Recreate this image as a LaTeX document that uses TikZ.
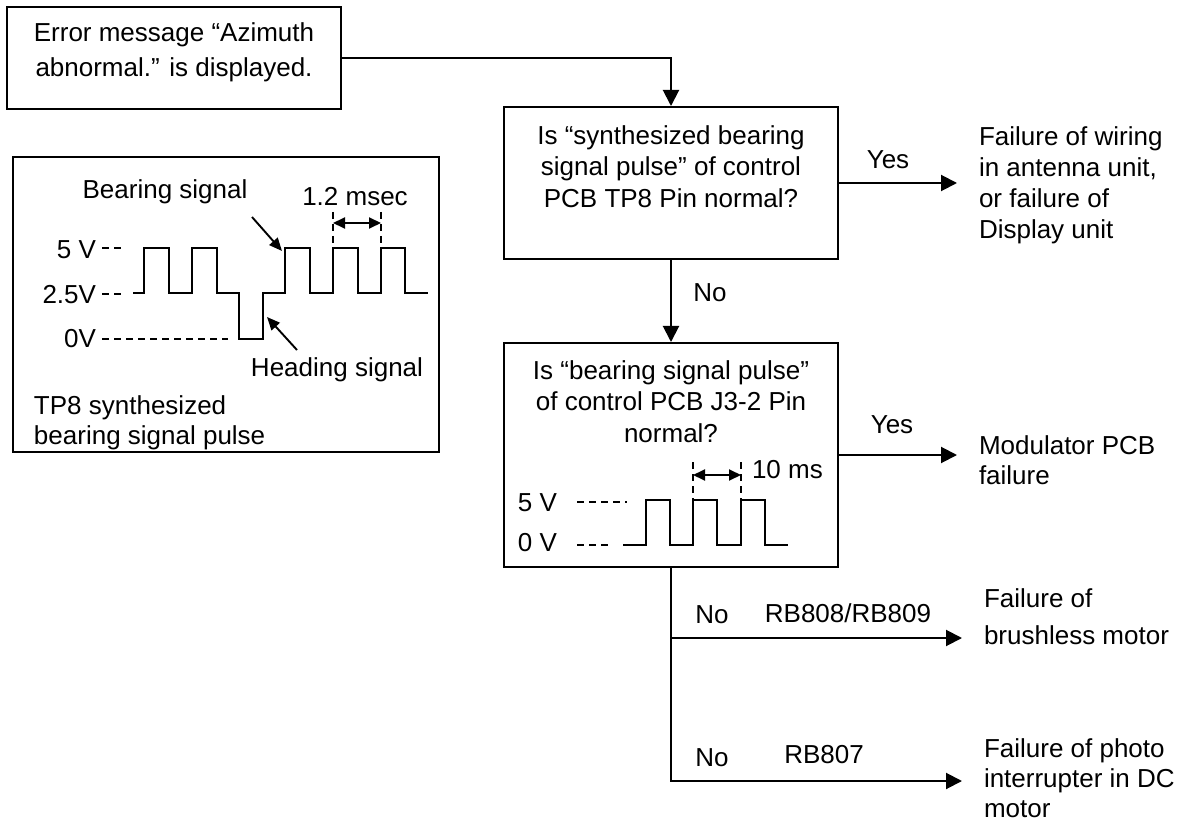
\documentclass[tikz,border=0pt]{standalone}
\usepackage{fontspec}
\setmainfont{Liberation Sans}
\usetikzlibrary{arrows.meta,positioning}

\begin{document}
\begin{tikzpicture}[x=1pt,y=-1pt,>={Triangle[length=16pt,width=16pt]},
  line width=2pt,
  box/.style={draw, line width=2pt, minimum width=334pt, inner sep=0pt},
  txt/.style={align=center, inner sep=0pt, font=\fontsize{26}{31.5}\selectfont},
  res/.style={align=left, anchor=west, inner sep=0pt, font=\fontsize{26}{30}\selectfont},
  lbl/.style={inner sep=0pt, font=\fontsize{26}{30}\selectfont},
  wave/.style={line width=1.9pt, line join=miter},
  guide/.style={line width=1.4pt, dash pattern=on 7pt off 5pt},
  ptr/.style={-{Triangle[length=13pt,width=11pt]}, line width=1.9pt},
  span/.style={{Triangle[length=12pt,width=11pt]}-{Triangle[length=12pt,width=11pt]}, line width=1.9pt}]
  \useasboundingbox (0,0) rectangle (1189,826);

  % boxes
  \node[box, minimum height=102pt] (err) at (174,58) {};
  \node[txt, font=\fontsize{26}{35}\selectfont] (errtext) at (174,52.5)
    {Error message “Azimuth\\abnormal.” is displayed.};
  \node[box, minimum width=426pt, minimum height=295pt] (tp8box) at (226,304.5) {};
  \node[box, minimum height=152pt] (chk1) at (671,183) {};
  \node[txt] (chk1text) at (671,166.5)
    {Is “synthesized bearing\\signal pulse” of control\\PCB TP8 Pin normal?};
  \node[box, minimum height=224pt] (chk2) at (671,455) {};
  \node[txt] (chk2text) at (671,401.5)
    {Is “bearing signal pulse”\\of control PCB J3-2 Pin\\normal?};

  % results
  \node[res, font=\fontsize{26}{31}\selectfont] (wiring) at (978,185)
    {Failure of wiring\\in antenna unit,\\or failure of\\Display unit};
  \node[res] (modpcb) at (978,460) {Modulator PCB\\failure};
  \node[res, font=\fontsize{26}{37}\selectfont] (motor) at (983,617)
    {Failure of\\brushless motor};
  \node[res] (photo) at (983,778) {Failure of photo\\interrupter in DC\\motor};

  \coordinate (yes1) at (957,183);
  \coordinate (yes2) at (957,455);
  \coordinate (no1) at (962,638);
  \coordinate (no2) at (962,781);

  % connectors
  \draw[->] (err.east) -| (chk1.north);
  \draw[->] (chk1.east) -- (yes1);
  \draw[->] (chk1.south) -- (chk2.north);
  \draw[->] (chk2.east) -- (yes2);
  \draw[->] (chk2.south) |- (no2);
  \draw[->] (chk2.south |- no1) -- (no1);

  \node[lbl] (yes1lbl) at (888,160) {Yes};
  \node[lbl] (no1lbl) at (710,293) {No};
  \node[lbl] (yes2lbl) at (892,425) {Yes};
  \node[lbl] (no2lbl) at (712,615) {No};
  \node[lbl] (rb808) at (848,613) {RB808/RB809};
  \node[lbl] (no3lbl) at (712,758) {No};
  \node[lbl] (rb807) at (824,755) {RB807};

  % TP8 pulse
  \node[lbl, anchor=east] (v5) at (97,250) {5 V};
  \node[lbl, anchor=east] (v25) at (97,295) {2.5V};
  \node[lbl, anchor=east] (v0) at (97,339) {0V};
  \draw[guide] (102,248) -- (122,248);
  \draw[guide] (102,294) -- (122,294);
  \draw[guide] (102,339) -- (228,339);
  \draw[wave] (133,293) -- (144,293) -- (144,248) -- (169,248) -- (169,293)
    -- (192,293) -- (192,248) -- (217,248) -- (217,293) -- (239,293)
    -- (239,339) -- (263,339) -- (263,293) -- (285,293) -- (285,248)
    -- (310,248) -- (310,293) -- (333,293) -- (333,248) -- (358,248)
    -- (358,293) -- (381,293) -- (381,248) -- (405,248) -- (405,293) -- (428,293);
  \draw[guide] (333,212) -- (333,248);
  \draw[guide] (381,212) -- (381,248);
  \draw[span] (333,223) -- (381,223);
  \node[lbl] (msec) at (355,197) {1.2 msec};
  \node[lbl] (bearing) at (165,192) {Bearing signal};
  \node[lbl] (heading) at (337,370) {Heading signal};
  \coordinate (bearingtail) at (252,217);
  \coordinate (bearingtip) at (282,251);
  \coordinate (headingtail) at (297,350);
  \coordinate (headingtip) at (267,317);
  \draw[ptr] (bearingtail) -- (bearingtip);
  \draw[ptr] (headingtail) -- (headingtip);
  \node[res] (tp8text) at (33,423) {TP8 synthesized\\bearing signal pulse};

  % J3-2 pulse
  \node[lbl, anchor=east] (j5) at (558,503) {5 V};
  \node[lbl, anchor=east] (j0) at (558,543) {0 V};
  \draw[guide] (577,502) -- (627,502);
  \draw[guide] (577,545) -- (611,545);
  \draw[wave] (623,545) -- (646,545) -- (646,500) -- (670,500) -- (670,545)
    -- (693,545) -- (693,500) -- (717,500) -- (717,545) -- (741,545)
    -- (741,500) -- (765,500) -- (765,545) -- (788,545);
  \draw[guide] (693,462) -- (693,500);
  \draw[guide] (741,462) -- (741,500);
  \draw[span] (693,475) -- (741,475);
  \node[lbl, anchor=west] (tenms) at (751,470) {10 ms};
\end{tikzpicture}
\end{document}
